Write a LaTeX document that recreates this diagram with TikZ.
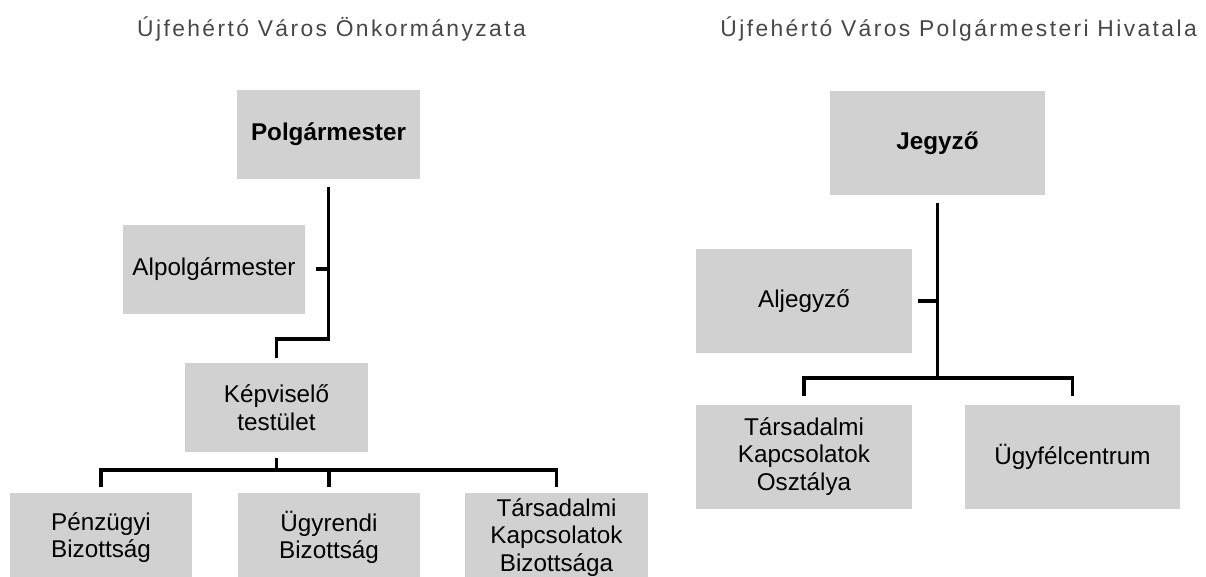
\documentclass[tikz,border=0pt]{standalone}
\usepackage{fontspec}
\setmainfont{Liberation Sans}
\usetikzlibrary{positioning,calc}

\begin{document}
\begin{tikzpicture}[x=0.02cm,y=-0.02cm,
    every node/.style={font=\fontsize{13.8}{15.6}\selectfont},
    orgbox/.style={fill=black!18,align=center,inner sep=0pt},
    lbox/.style={orgbox,minimum width=3.66cm,minimum height=1.78cm},
    rbox/.style={orgbox,minimum width=4.32cm,minimum height=2.08cm},
    chief/.style={font=\fontsize{13.8}{15.6}\selectfont\bfseries},
    heading/.style={font=\fontsize{13}{15}\selectfont\addfontfeatures{LetterSpace=10.5},text=black!72},
    conn/.style={line width=1.9pt,shorten <=4.5pt,shorten >=3.4pt}]
  \useasboundingbox (0,0) rectangle (1206,576);

  % ---------------- Önkormányzat (left) ----------------
  \node[heading,anchor=base west] (titleL) at (131,36) {Újfehértó Város Önkormányzata};
  \node[lbox,chief] (polg) at (328.5,134.5) {Polgármester};
  \node[lbox] (alpolg) at (214,269) {Alpolgármester};
  \node[lbox] (kepv) at (276.5,407.5) {Képviselő\\testület};
  \node[lbox] (penz) at (101,537.5) {Pénzügyi\\Bizottság};
  \node[lbox] (ugyr) at (329,537.5) {Ügyrendi\\Bizottság};
  \node[lbox] (tarsb) at (556.5,537.5) {Társadalmi\\Kapcsolatok\\Bizottsága};
  \coordinate (bendL) at (0,339);
  \coordinate (busL) at (276.5,470);
  \draw[conn,shorten >=2.8pt] (polg.south) -- (polg.south |- bendL) -| (kepv.north);
  \draw[conn,shorten <=5.5pt,shorten >=0pt] (alpolg.east) -- (alpolg.east -| polg.south);
  \draw[conn,shorten <=3.4pt,shorten >=0pt] (kepv.south) -- (busL);
  \draw[conn,shorten <=3.4pt] (penz.north) |- (busL) -| (tarsb.north);
  \draw[conn,shorten <=0pt] (ugyr.north |- busL) -- (ugyr.north);

  % ---------------- Polgármesteri Hivatal (right) ----------------
  \node[heading,anchor=base east] (titleR) at (1203,36) {Újfehértó Város Polgármesteri Hivatala};
  \node[rbox,chief] (jegyzo) at (937.5,143) {Jegyző};
  \node[rbox] (aljegyzo) at (804,301) {Aljegyző};
  \node[rbox] (tko) at (804,456.5) {Társadalmi\\Kapcsolatok\\Osztálya};
  \node[rbox] (ugyf) at (1072.5,456.5) {Ügyfélcentrum};
  \coordinate (busR) at (937.5,378);
  \draw[conn,shorten >=0pt] (jegyzo.south) -- (busR);
  \draw[conn,shorten <=3.4pt,shorten >=0pt] (aljegyzo.east) -- (aljegyzo.east -| jegyzo.south);
  \draw[conn,shorten <=4.5pt,shorten >=4.5pt] (tko.north) |- (busR) -| (ugyf.north);
\end{tikzpicture}
\end{document}
